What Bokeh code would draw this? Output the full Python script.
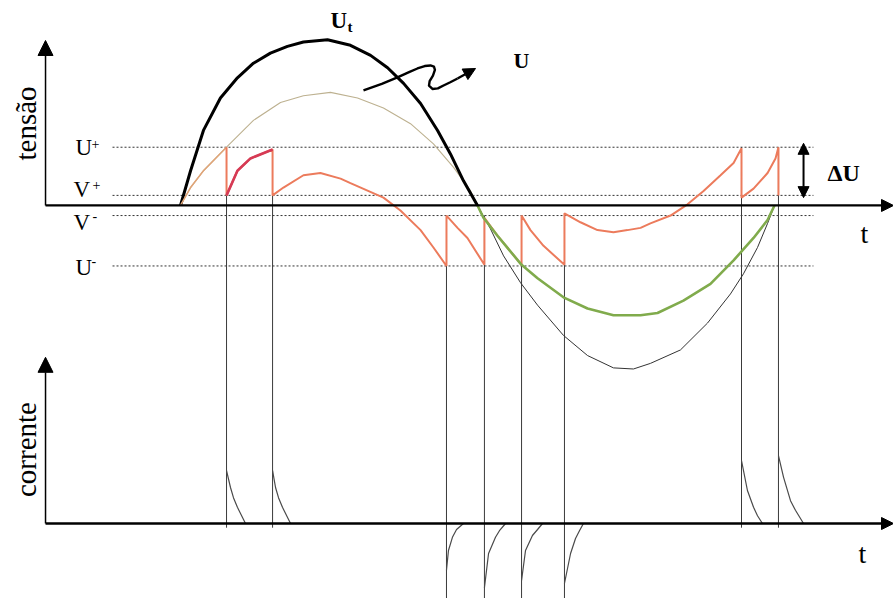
import math
from bokeh.plotting import figure
from bokeh.models import Range1d, Arrow, NormalHead, Label
from bokeh.embed import file_html
from bokeh.resources import INLINE

# Time runs in electrical degrees; voltages are per unit of U's peak,
# currents are in per unit of the switching pulse.

# Source voltage Ut: positive half (thick) and negative half (thin)
ut_theta = [0, 6.1, 13.9, 24.2, 34.5, 44.2, 54.5, 64.8, 74.5, 89.1, 103.0, 115.2,
            125.5, 135.2, 145.5, 155.8, 163.6, 171.5, 180]
ut_volts = [0, 0.31, 0.67, 0.96, 1.14, 1.27, 1.36, 1.42, 1.46, 1.48, 1.43, 1.34,
            1.23, 1.09, 0.91, 0.67, 0.46, 0.22, 0]
ut_neg_theta = [180, 187.9, 195.8, 206.1, 216.4, 232.1, 246.7, 262.4, 274.5, 284.8,
                303.0, 319.4, 333.3, 341.2, 349.7, 355.8, 360]
ut_neg_volts = [0, -0.21, -0.45, -0.69, -0.89, -1.16, -1.34, -1.45, -1.46, -1.41,
                -1.29, -1.05, -0.79, -0.61, -0.375, -0.16, 0]

# Voltage U: positive half (thin) and negative half (green)
u_theta = [0, 6.1, 13.9, 27.9, 44.2, 60.6, 74.5, 90.9, 107.3, 123.0, 139.4, 153.3,
           165.5, 175.8, 180]
u_volts = [0, 0.16, 0.31, 0.52, 0.76, 0.92, 0.98, 1.01, 0.96, 0.87, 0.73, 0.55,
           0.34, 0.13, 0]
u_neg_theta = [180, 183.6, 192.1, 206.7, 216.4, 232.1, 246.7, 262.4, 278.8, 289.1,
               304.8, 321.2, 335.2, 347.3, 355.8, 360]
u_neg_volts = [0, -0.11, -0.27, -0.53, -0.65, -0.82, -0.92, -0.98, -0.98, -0.96,
               -0.85, -0.70, -0.49, -0.29, -0.13, 0]

# Capacitor voltage with the jumps at every switching instant
v_theta = [0, 6.1, 13.9, 27.9,
           27.9, 34.5, 42.4, 55.8,
           55.8, 62.4, 74.5, 84.8, 97.0, 103.0, 123.0, 133.3, 145.5, 153.3, 161.2,
           161.2, 167.9, 173.9, 184.2,
           184.2, 192.1, 206.7,
           206.7, 212.1, 220.0, 232.7,
           232.7, 242.4, 252.7, 262.4, 270.9, 278.8, 284.8, 297.0, 307.3, 317.0,
           327.3, 335.2, 340.0,
           340.0, 347.3, 355.8, 360.6, 362.4,
           362.4]
v_volts = [0, 0.16, 0.31, 0.52,
           0.09, 0.31, 0.42, 0.50,
           0.09, 0.16, 0.27, 0.29, 0.24, 0.20, 0.07, -0.045, -0.22, -0.375, -0.54,
           -0.09, -0.20, -0.29, -0.53,
           -0.11, -0.27, -0.53,
           -0.09, -0.22, -0.36, -0.53,
           -0.07, -0.15, -0.22, -0.24, -0.22, -0.20, -0.16, -0.09, 0.01, 0.13,
           0.27, 0.38, 0.51,
           0.07, 0.15, 0.29, 0.42, 0.52,
           0.09]

# Threshold levels
level_names = ["U", "V", "V", "U"]
level_signs = ["+", "+", "-", "-"]
level_volts = [0.52, 0.09, -0.09, -0.54]
delta_u = (0.52, 0.09)

# Switching instants, where each switching line starts (voltage)
# and where it ends (current)
sw_theta = [27.9, 55.8, 161.2, 184.2, 206.7, 232.7, 340.0, 362.4]
sw_top_volts = [0.09, 0.09, -0.54, -0.09, -0.53, -0.53, 0.52, 0.52]
sw_bottom_amps = [-0.07, -0.07, -1.3, -1.3, -1.3, -1.3, -0.07, -0.07]

# Current pulses after each switching
pulse_theta = [
    [27.9, 30.3, 32.1, 34.5, 39.4],
    [55.8, 57.6, 59.4, 61.8, 66.7],
    [161.2, 162.4, 164.8, 167.3, 171.5],
    [184.2, 186.7, 190.9, 193.3, 197.0],
    [206.7, 209.1, 213.3, 216.4, 219.4],
    [232.7, 236.4, 239.4, 241.8, 244.2],
    [340.0, 343.6, 347.3, 349.7, 352.7],
    [362.4, 365.5, 369.7, 372.7, 377.6],
]
pulse_amps = [
    [0.88, 0.60, 0.43, 0.27, 0.0],
    [0.88, 0.60, 0.43, 0.27, 0.0],
    [-0.78, -0.45, -0.23, -0.10, 0.0],
    [-1.07, -0.50, -0.23, -0.12, 0.0],
    [-0.95, -0.45, -0.20, -0.10, 0.0],
    [-1.00, -0.50, -0.25, -0.12, 0.0],
    [1.05, 0.55, 0.27, 0.13, 0.0],
    [1.13, 0.77, 0.38, 0.22, 0.0],
]

# Wavy arrow from Ut towards U
wave_theta = [110.9, 122.0, 131.5, 138.5, 143.6, 148.0, 151.5, 153.6, 154.2, 153.0,
              151.0, 150.6, 152.7, 156.0, 159.4, 163.5, 167.9]
wave_volts = [1.027, 1.085, 1.143, 1.19, 1.223, 1.245, 1.25, 1.24, 1.21, 1.16,
              1.11, 1.07, 1.04, 1.045, 1.071, 1.10, 1.134]
wave_tip = (178.8, 1.223)

# View extents
T0, T1 = -109.09, 432.12
V0, V1 = -3.509, 1.830
I0, I1 = -1.25, 8.717
AXIS_THETA = -81.8
VOLT_AXIS_TOP = 1.473
AMP_AXIS_TOP = 2.77
DOT_START, DOT_END = -41.2, 383.6

PLOT_W, PLOT_H = 893, 598
SERIF = "'Liberation Serif', 'Times New Roman', serif"
ORANGE = "#ec7b5c"
RED = "#d63a55"
GREEN = "#80ab4c"
TAN = "#bdb190"


def i_to_v(i):
    return V0 + (i - I0) * (V1 - V0) / (I1 - I0)


def v_to_i(v):
    return I0 + (v - V0) * (I1 - I0) / (V1 - V0)


p = figure(width=PLOT_W, height=PLOT_H, x_range=Range1d(T0, T1), y_range=Range1d(V0, V1),
           x_axis_type=None, y_axis_type=None, output_backend="svg",
           toolbar_location=None, min_border=0, outline_line_color=None,
           background_fill_color="white", border_fill_color="white")
p.extra_y_ranges = {"i": Range1d(I0, I1)}

# dotted threshold levels
p.segment(x0=[DOT_START] * 4, x1=[DOT_END] * 4, y0=level_volts, y1=level_volts,
          line_color="#333333", line_width=1, line_dash="2 2")

# axes drawn as arrows
def axis_arrow(x0, y0, x1, y1, width, head):
    p.add_layout(Arrow(end=NormalHead(size=head, fill_color="black", line_color="black",
                                      line_width=1),
                       x_start=x0, y_start=y0, x_end=x1, y_end=y1,
                       line_color="black", line_width=width))

axis_arrow(AXIS_THETA, 0, T1, 0, 2.2, 12)
axis_arrow(AXIS_THETA, 0, AXIS_THETA, VOLT_AXIS_TOP, 1.5, 15)
axis_arrow(AXIS_THETA, i_to_v(0), T1, i_to_v(0), 2.4, 12)
axis_arrow(AXIS_THETA, i_to_v(0), AXIS_THETA, i_to_v(AMP_AXIS_TOP), 1.5, 15)

# switching lines
p.segment(x0=sw_theta, x1=sw_theta, y0=[v_to_i(v) for v in sw_top_volts],
          y1=sw_bottom_amps, y_range_name="i", line_color="#3a3a3a", line_width=1)

# current pulses
p.multi_line(xs=pulse_theta, ys=pulse_amps, y_range_name="i",
             line_color="#4a4a4a", line_width=1.2)

# U (positive half), Ut
p.line(u_theta, u_volts, line_color=TAN, line_width=1.1)
p.line(ut_theta, ut_volts, line_color="black", line_width=3, line_join="round")
p.line(ut_neg_theta, ut_neg_volts, line_color="#333333", line_width=1)

# capacitor voltage
p.line(v_theta[:4], v_volts[:4], line_color="#e0a477", line_width=1.5)
p.line(v_theta[3:], v_volts[3:], line_color=ORANGE, line_width=2)
p.line(v_theta[4:8], v_volts[4:8], line_color=RED, line_width=2.6)

# U (negative half)
p.line(u_neg_theta, u_neg_volts, line_color=GREEN, line_width=2.6)

# wavy arrow
p.line(wave_theta, wave_volts, line_color="black", line_width=2.4, line_join="round")
p.add_layout(Arrow(end=NormalHead(size=12, fill_color="black", line_color="black"),
                   x_start=wave_theta[-1], y_start=wave_volts[-1],
                   x_end=wave_tip[0], y_end=wave_tip[1],
                   line_color="black", line_width=2.4))

# delta U marker
p.add_layout(Arrow(start=NormalHead(size=11, fill_color="black", line_color="black"),
                   end=NormalHead(size=11, fill_color="black", line_color="black"),
                   x_start=377.6, y_start=delta_u[1] - 0.02,
                   x_end=377.6, y_end=delta_u[0] + 0.035,
                   line_color="black", line_width=2))

# data units per screen pixel, used to lift the text box onto the glyph baseline
DEG_PER_PX = (T1 - T0) / PLOT_W
VOLT_PER_PX = (V1 - V0) / PLOT_H
BASELINE_LIFT = 0.33


def text(t, x, y, size, bold=False, angle=0.0, align="left"):
    lift = BASELINE_LIFT * size
    if angle:
        x -= lift * DEG_PER_PX
    else:
        y += lift * VOLT_PER_PX
    p.add_layout(Label(x=x, y=y, text=t, text_font=SERIF, text_font_size=f"{size}px",
                       text_font_style="bold" if bold else "normal", text_color="black",
                       angle=angle, text_align=align, text_baseline="alphabetic"))


# level labels with their superscript signs
label_x = [-63.6, -64.8, -64.8, -63.6]
label_base = [0.446, 0.071, -0.223, -0.625]
sign_x = [-53.9, -53.3, -53.3, -53.9]
sign_base = [0.509, 0.143, -0.134, -0.536]
for name, sign, lx, ly, sx, sy in zip(level_names, level_signs, label_x, label_base,
                                      sign_x, sign_base):
    text(name, lx, ly, 23)
    text(sign, sx, sy, 14)

text("tensão", -87.9, 0.732, 29, angle=math.pi / 2, align="center")
text("corrente", -87.9, i_to_v(1.233), 29, angle=math.pi / 2, align="center")
text("t", 412.1, -0.33, 28)
text("t", 410.9, i_to_v(-0.65), 28)
text("U", 90.9, 1.58, 23, bold=True)
text("t", 101.2, 1.545, 15, bold=True)
text("U", 201.8, 1.232, 22, bold=True)
text("ΔU", 392.1, 0.223, 24, bold=True)

open("out.html", "w").write(file_html(p, INLINE))
